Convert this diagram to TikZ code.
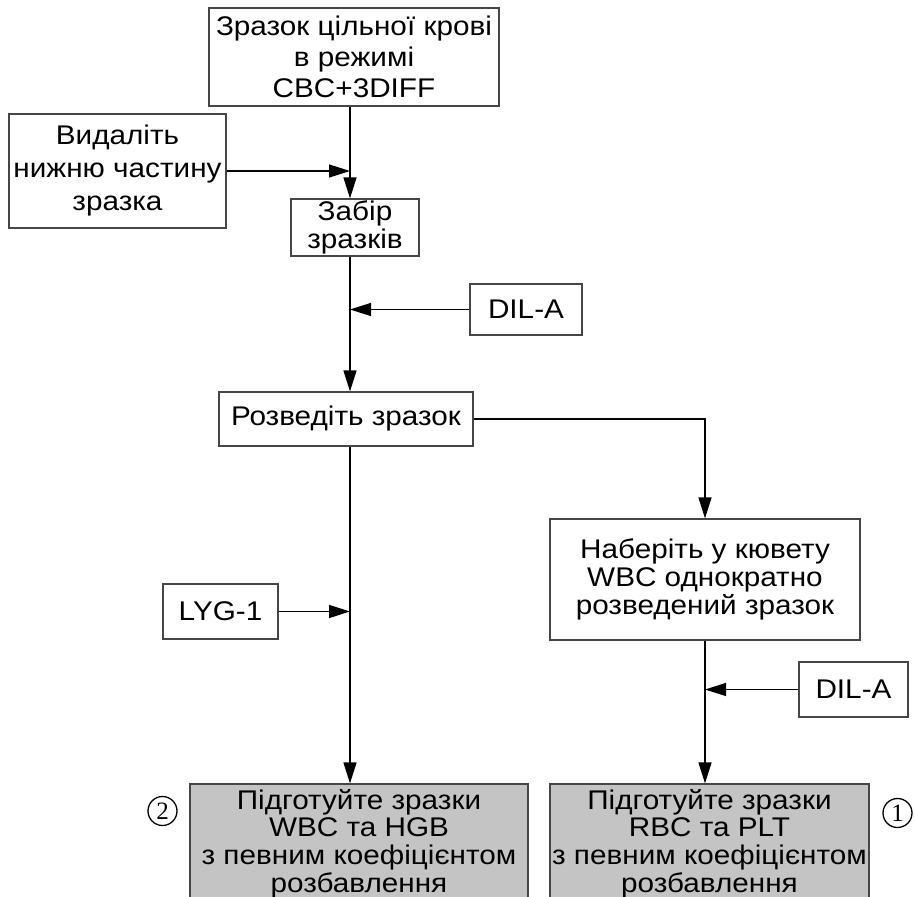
\documentclass[tikz,border=0pt]{standalone}
\usepackage{fontspec}
\setmainfont{Liberation Sans}[FakeStretch=1.1]
\newfontfamily\digitfont{Liberation Serif}
\usetikzlibrary{arrows.meta,calc}
\definecolor{boxgray}{RGB}{196,196,196}
\definecolor{edgegray}{RGB}{70,70,70}
\tikzset{
  box/.style={draw=edgegray, line width=1.2pt, fill=white, align=center, inner sep=0pt,
    font=\fontsize{27}{31}\selectfont},
  graybox/.style={box, fill=boxgray},
  arr/.style={line width=1.3pt, -{Triangle[length=21pt,width=13pt]}},
  circnum/.style={circle, draw, line width=1.3pt, inner sep=0pt, minimum size=29pt,
    font=\digitfont\fontsize{25}{25}\selectfont}
}
\begin{document}
\begin{tikzpicture}[x=1pt,y=-1pt]
\clip (0,0) rectangle (914,897);
\fill[white] (0,0) rectangle (914,897);
\coordinate (spine) at (350,0);
\node[box, minimum width=290pt, minimum height=98pt] (top) at (354,57) {Зразок цільної крові\\в режимі\\CBC+3DIFF};
\node[box, minimum width=217pt, minimum height=114pt, font=\fontsize{27}{33}\selectfont] (left) at (117.5,171) {Видаліть\\нижню частину\\зразка};
\node[box, minimum width=128pt, minimum height=57pt, font=\fontsize{27}{28}\selectfont] (zab) at (355,227.5) {Забір\\зразків};
\node[box, minimum width=112pt, minimum height=51pt] (dila1) at (526,309.5) {DIL-A};
\node[box, minimum width=254pt, minimum height=54pt] (rozv) at (346,419) {Розведіть зразок};
\node[box, minimum width=310pt, minimum height=121pt, font=\fontsize{27}{28}\selectfont] (naber) at (705,579.5) {Наберіть у кювету\\WBC однократно\\розведений зразок};
\node[box, minimum width=115pt, minimum height=55pt] (lyg) at (220.5,611.5) {LYG-1};
\node[box, minimum width=109pt, minimum height=55pt] (dila2) at (853.5,689.5) {DIL-A};
\node[graybox, minimum width=338pt, minimum height=119pt, font=\fontsize{27}{27.7}\selectfont] (g1) at (359,843.5) {Підготуйте зразки\\WBC та HGB\\з певним коефіцієнтом\\розбавлення};
\node[graybox, minimum width=319pt, minimum height=119pt, font=\fontsize{27}{27.7}\selectfont] (g2) at (709.5,843.5) {Підготуйте зразки\\RBC та PLT\\з певним коефіцієнтом\\розбавлення};
\node[circnum] (c2) at (162.5,811) {2};
\node[circnum] (c1) at (897.5,813) {1};
\draw[arr] (top.south -| spine) -- (zab.north -| spine);
\draw[arr] (left.east) -- (left.east -| spine);
\draw[arr] (zab.south -| spine) -- (rozv.north -| spine);
\draw[arr] (dila1.west) -- (dila1.west -| spine);
\draw[arr] (rozv.east) -| (naber.north);
\draw[arr] (rozv.south -| spine) -- (g1.north -| spine);
\draw[arr] (lyg.east) -- (lyg.east -| spine);
\draw[arr] (naber.south) -- (naber.south |- g2.north);
\draw[arr] (dila2.west) -- (dila2.west -| naber.south);
\end{tikzpicture}
\end{document}
